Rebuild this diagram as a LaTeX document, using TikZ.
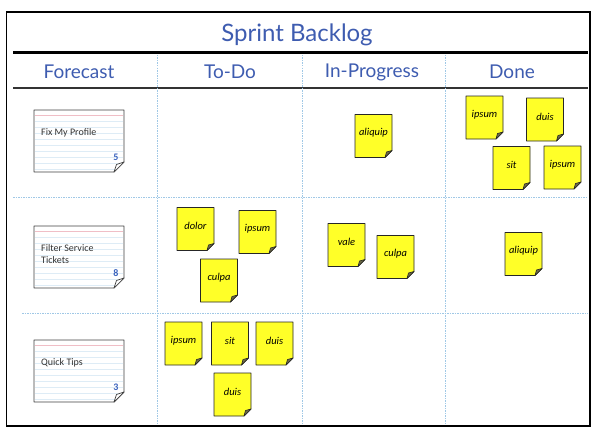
\documentclass[tikz,border=0pt]{standalone}
\usepackage{fontspec}
\setmainfont{Carlito}
\newfontfamily\headfont{Lato}
\definecolor{headblue}{RGB}{62,92,176}
\definecolor{gridblue}{RGB}{160,200,230}
\definecolor{noteyellow}{RGB}{255,255,40}
\definecolor{cardline}{RGB}{222,236,246}
\definecolor{cardpink}{RGB}{240,190,198}
\definecolor{numblue}{RGB}{60,100,190}
\tikzset{
	note/.style={fill=noteyellow, draw=black!85, line width=0.9pt, line join=round},
	flap/.style={fill=yellow!35!black, draw=black!85, line width=0.6pt, line join=round},
	notetext/.style={font=\itshape\fontsize{10.5}{11}\selectfont, inner sep=0pt},
	card/.style={fill=white, draw=black!75, line width=0.9pt, line join=round},
	cardtext/.style={font=\fontsize{10}{12}\selectfont, text=black!80, align=left, anchor=north west, inner sep=0pt},
	cardnum/.style={font=\bfseries\fontsize{10}{10}\selectfont, text=numblue, inner sep=0pt},
	head/.style={font=\headfont\fontsize{19}{19}\selectfont, text=headblue},
	grid/.style={gridblue, dash pattern=on 1.5pt off 1pt, line width=0.8pt}
}

\begin{document}
\begin{tikzpicture}[x=1pt, y=-1pt]

	\useasboundingbox (0,0) rectangle (594,428);

	\def\nw{18.5}
	\def\nh{21.5}
	\def\nf{7}

	\draw[line width=1.5pt] (6.5,12) rectangle (590,426);

	\node[head, font=\headfont\fontsize{24}{24}\selectfont] (title) at (297,35) {Sprint Backlog};

	\draw[line width=3pt] (13,53) -- (588,53);
	\draw[line width=1.8pt, black!80] (13,88) -- (588,88);

	\foreach \x in {157,302,445}
		\draw[grid] (\x,55) -- (\x,425);
	\draw[grid] (13,197) -- (588,197);
	\draw[grid] (22,313) -- (588,313);

	\node[head] (forecast) at (79,72) {Forecast};
	\node[head] (todo) at (230,72) {To-Do};
	\node[head] (progress) at (372,72) {In-Progress};
	\node[head] (done) at (512,72) {Done};

	\foreach \nm/\y/\txt/\num in {profile/141/{Fix My Profile}/5, filter/257/{Filter Service\\Tickets}/8, tips/371/{Quick Tips}/3} {
		\begin{scope}[shift={(79,\y)}]
			\filldraw[card] (-45,-31) -- (45,-31) -- (45,21) -- (35,31) -- (-45,31) -- cycle;
			\begin{scope}
				\clip (-44,-30) -- (44,-30) -- (44,21) -- (35,30) -- (-44,30) -- cycle;
				\foreach \k in {0,...,8}
					\draw[cardline, line width=0.6pt] (-44,-20+6*\k) -- (44,-20+6*\k);
				\draw[cardpink, line width=0.7pt] (-44,-26) -- (44,-26);
			\end{scope}
			\filldraw[card, line width=0.7pt] (45,21) -- (35,31) -- (37.5,23.5) -- cycle;
		\end{scope}
		\node[cardtext] (\nm) at (41,\y-13) {\txt};
		\node[cardnum] (\nm-num) at (116,\y+16) {\num};
	}

	\foreach \nm/\x/\y/\txt in {
		todoA/195.5/229/dolor, todoB/257.5/232/ipsum, todoC/219/280.5/culpa,
		todoD/183.5/343.5/ipsum, todoE/230/343.5/sit, todoF/274.5/343.5/duis, todoG/232.5/394.5/duis,
		progA/373.5/136/aliquip, progB/346.5/245/vale, progC/395.5/257/culpa,
		doneA/484.5/117.5/ipsum, doneB/545/119.5/duis, doneC/511.5/168/sit, doneD/562.5/167.5/ipsum,
		doneE/523.5/254/aliquip} {
		\filldraw[note, shift={(\x,\y)}] (-\nw,-\nh) -- (\nw,-\nh) -- (\nw,\nh-\nf) -- (\nw-\nf,\nh) -- (-\nw,\nh) -- cycle;
		\filldraw[flap, shift={(\x,\y)}] (\nw,\nh-\nf) -- (\nw-\nf,\nh) -- (\nw-\nf+1.5,\nh-\nf+1.5) -- cycle;
		\node[notetext] (\nm) at (\x,\y-3) {\txt};
	}

\end{tikzpicture}
\end{document}
